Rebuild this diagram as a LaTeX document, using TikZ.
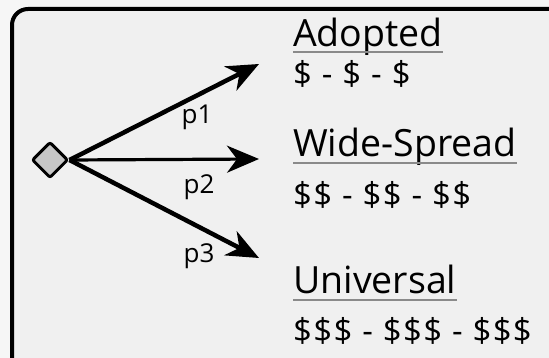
\documentclass[tikz,border=0pt]{standalone}
\usepackage{fontspec}
\setmainfont{Open Sans}
\newfontfamily\pricefont[LetterSpace=4]{Open Sans}
\usetikzlibrary{shapes.geometric,arrows.meta}
\definecolor{boxfill}{HTML}{F0F0F0}
\definecolor{outside}{HTML}{F6F6F6}
\definecolor{diafill}{HTML}{C6C6C6}
\definecolor{ulcol}{HTML}{8A8A8A}
\tikzset{
  title/.style={anchor=base west, inner sep=0pt, font=\fontsize{37.5}{40}\selectfont},
  price/.style={anchor=base west, inner sep=0pt, font=\pricefont\fontsize{33}{36}\selectfont},
  plabel/.style={inner sep=0pt, font=\fontsize{26}{28}\selectfont},
  uline/.style={draw=ulcol, line width=1.4pt},
  branch/.style={line width=4.5pt, -{Stealth[length=32pt,width=27pt,inset=10pt]}},
}
\begin{document}
\begin{tikzpicture}[x=1pt,y=-1pt]
\useasboundingbox (0,0) rectangle (549,358);
\fill[outside] (0,0) rectangle (549,358);
\draw[line width=4pt, fill=boxfill, rounded corners=16pt] (12,9) rectangle (580,390);

\node[diamond, draw, line width=3pt, fill=diafill, minimum width=36pt, minimum height=36pt, inner sep=0pt, rounded corners=2pt] (d) at (50,160) {};
\coordinate (e1) at (259,64);
\coordinate (e2) at (259,159);
\coordinate (e3) at (259,258);
\draw[branch] (d.east) -- (e1);
\draw[branch, line width=3.2pt] (d.east) -- (e2);
\draw[branch] (d.east) -- (e3);

\node[plabel] (p1) at (197,117) {p1};
\node[plabel] (p2) at (199,187) {p2};
\node[plabel] (p3) at (199,256) {p3};

\node[title] (t1) at (293,47) {Adopted};
\node[title] (t2) at (293,157) {Wide-Spread};
\node[title] (t3) at (293,293) {Universal};
\draw[uline] ([yshift=-5pt]t1.base west) -- ([yshift=-5pt]t1.base east);
\draw[uline] ([yshift=-6pt]t2.base west) -- ([yshift=-6pt]t2.base east);
\draw[uline] ([yshift=-7pt]t3.base west) -- ([yshift=-7pt]t3.base east);

\node[price] (s1) at (293,86) {\$ - \$ - \$};
\node[price] (s2) at (293,207) {\$\$ - \$\$ - \$\$};
\node[price] (s3) at (293,342) {\$\$\$ - \$\$\$ - \$\$\$};
\end{tikzpicture}
\end{document}
